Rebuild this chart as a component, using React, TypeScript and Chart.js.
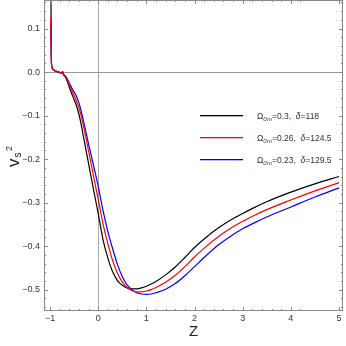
import React, { useEffect, useRef } from "react";
import { Chart, registerables } from "chart.js";

Chart.register(...registerables);

const zValues = [-0.985, -0.97, -0.95, -0.9, -0.85, -0.8, -0.76, -0.74, -0.72, -0.68, -0.64, -0.6, -0.55, -0.5, -0.45, -0.4, -0.35, -0.3, -0.2, -0.1, 0, 0.1, 0.2, 0.3, 0.4, 0.5, 0.6, 0.7, 0.8, 0.9, 1.0, 1.1, 1.2, 1.4, 1.6, 1.8, 2.0, 2.25, 2.5, 2.75, 3.0, 3.25, 3.5, 4.0, 4.5, 5.0];

const blackValues = [0.25, 0.02, 0.008, 0.003, 0.001, -0.001, -0.003, 0.001, -0.006, -0.012, -0.022, -0.035, -0.05, -0.063, -0.078, -0.097, -0.122, -0.152, -0.21, -0.268, -0.325, -0.385, -0.427, -0.459, -0.479, -0.49, -0.496, -0.498, -0.498, -0.496, -0.492, -0.487, -0.481, -0.466, -0.448, -0.426, -0.403, -0.379, -0.358, -0.34, -0.325, -0.311, -0.298, -0.276, -0.257, -0.24];

const redValues = [0.125, 0.02, 0.008, 0.003, 0.001, -0.001, -0.003, 0.001, -0.005, -0.01, -0.018, -0.029, -0.042, -0.054, -0.067, -0.082, -0.102, -0.126, -0.181, -0.237, -0.292, -0.349, -0.394, -0.433, -0.462, -0.482, -0.495, -0.502, -0.505, -0.505, -0.503, -0.5, -0.495, -0.483, -0.467, -0.447, -0.425, -0.4, -0.378, -0.359, -0.343, -0.329, -0.316, -0.294, -0.273, -0.254];

const blueValues = [0.11, 0.02, 0.008, 0.003, 0.001, -0.001, -0.003, 0.001, -0.005, -0.009, -0.016, -0.025, -0.036, -0.046, -0.056, -0.071, -0.091, -0.115, -0.165, -0.213, -0.262, -0.318, -0.366, -0.406, -0.442, -0.47, -0.489, -0.5, -0.507, -0.51, -0.511, -0.51, -0.507, -0.499, -0.486, -0.468, -0.447, -0.421, -0.397, -0.377, -0.36, -0.346, -0.333, -0.31, -0.287, -0.266];

const omegaValues = ["0.3", "0.26", "0.23"];
const deltaValues = ["118", "124.5", "129.5"];
const seriesColors = ["#000000", "#ff0000", "#0000ff"];

const xTickValues = [-1, 0, 1, 2, 3, 4, 5];
const yTickValues = [-0.5, -0.4, -0.3, -0.2, -0.1, 0.0, 0.1];

const FONT = "'Liberation Sans', Arial, sans-serif";
const FRAME = "#8a8a8a";
const TEXT = "#333333";

const minus = (s: string) => s.replace("-", "\u2212");

const framePlugin = {
  id: "framePlugin",
  afterDatasetsDraw(chart: any) {
    const { ctx, chartArea } = chart;
    const { left, right, top, bottom } = chartArea;
    const xs = chart.scales.x;
    const ys = chart.scales.y;
    ctx.save();
    ctx.strokeStyle = FRAME;
    ctx.lineWidth = 1;
    ctx.strokeRect(left + 0.5, top + 0.5, right - left - 1, bottom - top - 1);
    const drawX = (v: number, len: number) => {
      const px = Math.round(xs.getPixelForValue(v)) + 0.5;
      ctx.beginPath();
      ctx.moveTo(px, bottom);
      ctx.lineTo(px, bottom - len);
      ctx.moveTo(px, top);
      ctx.lineTo(px, top + len);
      ctx.stroke();
    };
    const drawY = (v: number, len: number) => {
      const py = Math.round(ys.getPixelForValue(v)) + 0.5;
      ctx.beginPath();
      ctx.moveTo(left, py);
      ctx.lineTo(left + len, py);
      ctx.moveTo(right, py);
      ctx.lineTo(right - len, py);
      ctx.stroke();
    };
    for (let i = 0; i < xTickValues.length; i++) drawX(xTickValues[i], 4);
    for (let i = -6; i <= 26; i++) {
      const v = -1 + i * 0.2;
      if (v < xs.min || v > xs.max) continue;
      if (i % 5 !== 0) drawX(v, 2);
    }
    for (let i = 0; i < yTickValues.length; i++) drawY(yTickValues[i], 4);
    for (let i = -28; i <= 9; i++) {
      const v = i * 0.02;
      if (v < ys.min || v > ys.max) continue;
      if (i % 5 !== 0) drawY(v, 2);
    }

    // legend
    const legendYs = [115, 137, 159];
    for (let i = 0; i < omegaValues.length; i++) {
      const y = legendYs[i];
      ctx.fillStyle = seriesColors[i];
      ctx.fillRect(200, y, 43, 1.3);
      ctx.fillStyle = TEXT;
      ctx.textBaseline = "alphabetic";
      ctx.textAlign = "left";
      let x = 257;
      const base = y + 4;
      ctx.font = `8.5px ${FONT}`;
      ctx.fillText("\u03A9", x, base);
      x += ctx.measureText("\u03A9").width;
      ctx.font = `italic 6px ${FONT}`;
      ctx.fillText("0", x, base + 2);
      x += ctx.measureText("0").width + 0.3;
      ctx.fillText("m", x, base + 2);
      x += ctx.measureText("m").width;
      ctx.font = `8.5px ${FONT}`;
      const t1 = "=" + omegaValues[i] + ",  ";
      ctx.fillText(t1, x, base);
      x += ctx.measureText(t1).width;
      ctx.font = `italic 8.5px ${FONT}`;
      ctx.fillText("\u03B4", x, base);
      x += ctx.measureText("\u03B4").width;
      ctx.font = `8.5px ${FONT}`;
      ctx.fillText("=" + deltaValues[i], x, base);
    }

    // y title v_s^2
    ctx.translate(19, 167);
    ctx.rotate(-Math.PI / 2);
    ctx.fillStyle = "#222";
    ctx.font = `17px ${FONT}`;
    ctx.fillText("v", 0, 0);
    const tx = ctx.measureText("v").width + 1;
    ctx.font = `10px ${FONT}`;
    ctx.fillText("s", tx, 1.5);
    ctx.font = `9px ${FONT}`;
    ctx.fillText("2", tx + 6.5, -7);
    ctx.restore();
  },
};

export default function App() {
  const ref = useRef<HTMLCanvasElement | null>(null);
  useEffect(() => {
    document.body.style.margin = "0";
    const canvas = ref.current;
    if (!canvas) return;
    const makeData = (vals: number[]) => zValues.map((z, i) => ({ x: z, y: vals[i] }));
    const chart = new Chart(canvas, {
      type: "line",
      data: {
        datasets: [
          { label: "black", data: makeData(blackValues), borderColor: seriesColors[0], order: 3 },
          { label: "blue", data: makeData(blueValues), borderColor: seriesColors[2], order: 2 },
          { label: "red", data: makeData(redValues), borderColor: seriesColors[1], order: 1 },
        ].map((d) => ({
          ...d,
          borderWidth: 1.2,
          pointRadius: 0,
          fill: false,
          cubicInterpolationMode: "monotone" as const,
        })),
      },
      options: {
        animation: false,
        responsive: false,
        maintainAspectRatio: false,
        layout: { padding: { top: 0, right: 3, left: 0, bottom: 0 } },
        plugins: { legend: { display: false }, tooltip: { enabled: false } },
        scales: {
          x: {
            type: "linear",
            min: -1.125,
            max: 5.083,
            afterFit: (s: any) => {
              s.height = 35;
              s.paddingLeft = 0;
              s.paddingRight = 0;
            },
            afterBuildTicks: (s: any) => { s.ticks = xTickValues.map((v) => ({ value: v })); },
            ticks: {
              font: { family: FONT, size: 9 },
              color: TEXT,
              padding: 2,
              maxRotation: 0,
              autoSkip: false,
              callback: (v: any) => minus(String(v)),
            },
            grid: {
              drawTicks: false,
              color: (c: any) => (c.tick && c.tick.value === 0 ? "#aaaaaa" : "transparent"),
              lineWidth: 1,
            },
            border: { display: false },
            title: {
              display: true,
              text: "Z",
              font: { family: FONT, size: 15 },
              color: "#222",
              padding: { top: 0, bottom: 5 },
            },
          },
          y: {
            type: "linear",
            min: -0.549,
            max: 0.1655,
            afterFit: (s: any) => {
              s.width = 44;
              s.paddingTop = 0;
              s.paddingBottom = 0;
            },
            afterBuildTicks: (s: any) => { s.ticks = yTickValues.map((v) => ({ value: v })); },
            ticks: {
              font: { family: FONT, size: 9 },
              color: TEXT,
              padding: 4,
              autoSkip: false,
              callback: (v: any) => minus(Number(v).toFixed(1)),
            },
            grid: {
              drawTicks: false,
              color: (c: any) => (c.tick && Math.abs(c.tick.value) < 1e-9 ? "#999999" : "transparent"),
              lineWidth: 1,
            },
            border: { display: false },
          },
        },
      },
      plugins: [framePlugin],
    });
    return () => chart.destroy();
  }, []);
  return (
    <div style={{ width: 346, height: 346 }}>
      <canvas ref={ref} width={346} height={346} style={{ display: "block", width: 346, height: 346 }} />
    </div>
  );
}
